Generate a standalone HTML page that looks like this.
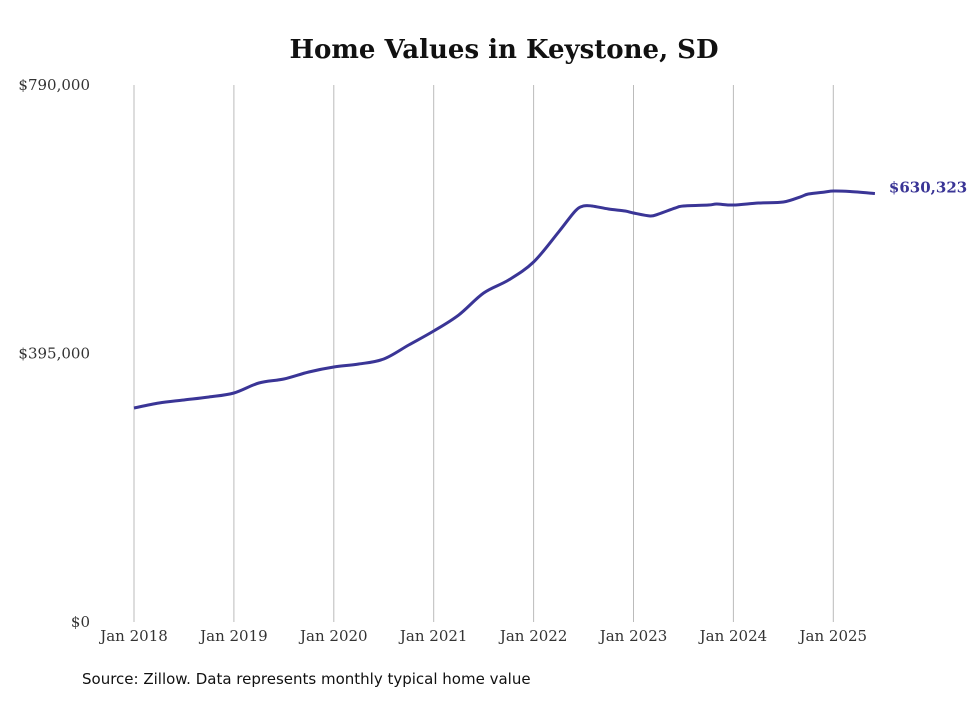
<!DOCTYPE html>
<html><head><meta charset="utf-8"><style>
body{margin:0;background:#fff;width:980px;height:699px;overflow:hidden}
svg text{font-family:"DejaVu Serif","Liberation Serif",serif}
</style></head><body>
<svg id="chart" width="980" height="699" xmlns="http://www.w3.org/2000/svg">
<text x="504" y="58" text-anchor="middle" font-size="26" font-weight="bold" fill="#111">Home Values in Keystone, SD</text>
<g id="grid"></g>
<g id="yaxis"></g>
<g id="xaxis"></g>
<path id="line" fill="none" stroke="#3a3596" stroke-width="3" stroke-linejoin="round"/>
<text id="endlabel" font-size="15" font-weight="bold" fill="#3a3596"></text>
<text x="82" y="684" font-size="15" fill="#111" style="font-family:'DejaVu Sans','Liberation Sans',sans-serif">Source: Zillow. Data represents monthly typical home value</text>
</svg>
<script>
const months=[0,3,6,9,12,15,18,21,24,27,30,33,36,39,42,45,48,51,53,54,55,57,59,60,62,63,65,66,69,70,72,75,78,80,81,83,84,86,89];
const values=[314800,322200,326600,331000,336900,351600,357500,367800,375100,379500,386900,407500,428100,451600,484000,503100,529600,573700,604600,612000,612000,607600,604600,601700,597300,600200,609000,612000,613400,614900,613400,616400,617900,625200,629600,632600,634000,633300,630323];
const yTicks=[0,395000,790000];
const yTickLabels=["$0","$395,000","$790,000"];
const xTickLabels=["Jan 2018","Jan 2019","Jan 2020","Jan 2021","Jan 2022","Jan 2023","Jan 2024","Jan 2025"];
const NS="http://www.w3.org/2000/svg";
const x=m=>134+m*99.9/12;
const y=v=>622-v/790000*537;
const grid=document.getElementById('grid'),ya=document.getElementById('yaxis'),xa=document.getElementById('xaxis');
xTickLabels.forEach((t,i)=>{
 const l=document.createElementNS(NS,'line');
 
 
 l.setAttribute('x1',x(i*12));l.setAttribute('x2',x(i*12));l.setAttribute('y1',85);l.setAttribute('y2',622);
 l.setAttribute('stroke','#bbb');l.setAttribute('stroke-width','1');grid.appendChild(l);
 const tx=document.createElementNS(NS,'text');
 
 
 tx.setAttribute('x',x(i*12));tx.setAttribute('y',641);tx.setAttribute('text-anchor','middle');
 tx.setAttribute('font-size','15');tx.setAttribute('fill','#333');tx.textContent=t;xa.appendChild(tx);
});
yTicks.forEach((v,i)=>{
 const tx=document.createElementNS(NS,'text');
 
 
 tx.setAttribute('x',90);tx.setAttribute('y',y(v)+5);tx.setAttribute('text-anchor','end');
 tx.setAttribute('font-size','15');tx.setAttribute('fill','#333');tx.textContent=yTickLabels[i];ya.appendChild(tx);
});
const pts=months.map((m,i)=>[x(m),y(values[i])]);
let d='M'+pts[0][0]+','+pts[0][1];
for(let i=0;i<pts.length-1;i++){
 const p0=pts[Math.max(0,i-1)],p1=pts[i],p2=pts[i+1],p3=pts[Math.min(pts.length-1,i+2)];
 const c1=[p1[0]+(p2[0]-p0[0])/6,p1[1]+(p2[1]-p0[1])/6],c2=[p2[0]-(p3[0]-p1[0])/6,p2[1]-(p3[1]-p1[1])/6];
 d+=' C'+c1+' '+c2+' '+p2;
}
document.getElementById('line').setAttribute('d',d);
const last=pts[pts.length-1],el=document.getElementById('endlabel');
el.setAttribute('x',last[0]+14);el.setAttribute('y',last[1]-1);
el.textContent='$'+values[values.length-1].toLocaleString('en-US');
</script>
</body></html>
